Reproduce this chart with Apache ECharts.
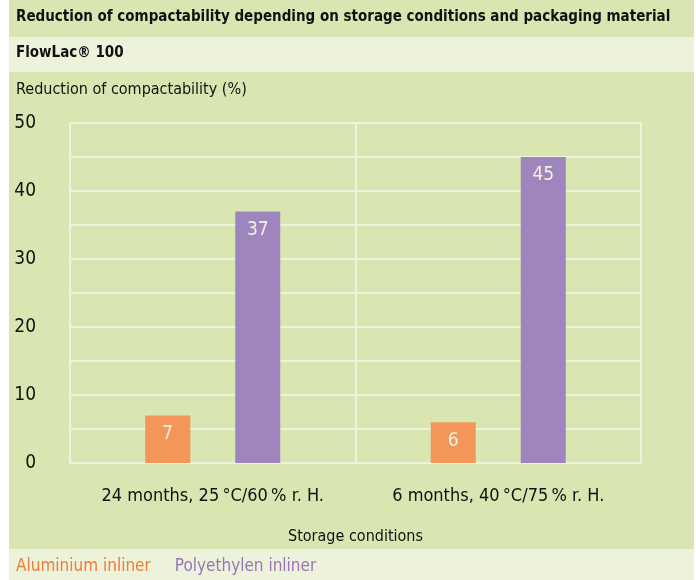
<!DOCTYPE html>
<html>
<head>
<meta charset="utf-8">
<script src="https://cdn.jsdelivr.net/npm/echarts@6/dist/echarts.min.js"></script>
<style>
html,body{margin:0;padding:0;background:#fff;}
#chart{width:696px;height:580px;}
</style>
</head>
<body>
<div id="chart"></div>
<script>
var categories = ['24 months, 25\u2009°C/60\u2009% r. H.', '6 months, 40\u2009°C/75\u2009% r. H.'];
var seriesNames = ['Aluminium inliner', 'Polyethylen inliner'];
var aluminium = [7, 6];
var polyethylen = [37, 45];
var yTickLabels = [0, 10, 20, 30, 40, 50];

var FONT = '"DejaVu Sans Condensed", "Liberation Sans Narrow", "Roboto", sans-serif';
var GREEN = '#d9e6b1';
var LIGHT = '#edf2da';
var GRIDC = '#eef3dd';
var ORANGE = '#f4955a';
var PURPLE = '#9e85bd';

var chart = echarts.init(document.getElementById('chart'), null, {renderer: 'canvas'});
chart.setOption({
  backgroundColor: '#ffffff',
  animation: false,
  graphic: [
    {type: 'rect', z: -10, silent: true, shape: {x: 9, y: 0, width: 685, height: 37}, style: {fill: GREEN}},
    {type: 'rect', z: -10, silent: true, shape: {x: 9, y: 37, width: 685, height: 35}, style: {fill: LIGHT}},
    {type: 'rect', z: -10, silent: true, shape: {x: 9, y: 72, width: 685, height: 477}, style: {fill: GREEN}},
    {type: 'rect', z: -10, silent: true, shape: {x: 9, y: 549, width: 685, height: 31}, style: {fill: LIGHT}}
  ],
  title: [
    {text: 'Reduction of compactability depending on storage conditions and packaging material',
     left: 16, top: 10, padding: 0,
     textStyle: {fontFamily: FONT, fontSize: 15, fontWeight: 'bold', color: '#111'}},
    {text: 'FlowLac® 100', left: 16, top: 46, padding: 0,
     textStyle: {fontFamily: FONT, fontSize: 15, fontWeight: 'bold', color: '#111'}}
  ],
  legend: {
    left: 16, top: 558, padding: 0,
    icon: 'none', itemWidth: 0, itemHeight: 0, itemGap: 24,
    selectedMode: false,
    textStyle: {fontFamily: FONT, fontSize: 17, padding: [0,0,0,-5]},
    data: [
      {name: seriesNames[0], textStyle: {color: '#ef7c38'}},
      {name: seriesNames[1], textStyle: {color: '#9a74b8'}}
    ]
  },
  grid: {left: 70, right: 55, top: 123, bottom: 117, outerBoundsMode: 'none', containLabel: false},
  xAxis: {
    type: 'category',
    data: categories,
    name: 'Storage conditions',
    nameLocation: 'middle',
    nameGap: 66,
    nameTextStyle: {fontFamily: FONT, fontSize: 16, color: '#111'},
    axisLine: {show: true, lineStyle: {color: GRIDC, width: 2}},
    axisTick: {show: false},
    axisLabel: {fontFamily: FONT, fontSize: 18, color: '#111', margin: 24, interval: 0, hideOverlap: false},
    splitLine: {show: true, lineStyle: {color: GRIDC, width: 2}}
  },
  yAxis: {
    type: 'value',
    min: 0, max: 50, interval: 5,
    name: 'Reduction of compactability (%)',
    nameLocation: 'end',
    nameGap: 33,
    nameTextStyle: {fontFamily: FONT, fontSize: 16, color: '#111', align: 'left', verticalAlign: 'middle', padding: [0,0,0,-54]},
    axisLine: {show: false},
    axisTick: {show: false},
    axisLabel: {
      fontFamily: FONT, fontSize: 19, color: '#111', margin: 34, align: 'right',
      formatter: function (v) { return yTickLabels.indexOf(v) >= 0 ? String(v) : ''; }
    },
    splitLine: {show: true, lineStyle: {color: GRIDC, width: 2}}
  },
  series: [
    {
      name: seriesNames[0], type: 'bar', data: aluminium,
      barWidth: 45, barGap: '100%',
      itemStyle: {color: ORANGE},
      label: {show: true, position: 'insideTop', distance: 9, fontFamily: FONT, fontSize: 19, color: '#f4f1de'}
    },
    {
      name: seriesNames[1], type: 'bar', data: polyethylen,
      barWidth: 45, barGap: '100%',
      itemStyle: {color: PURPLE},
      label: {show: true, position: 'insideTop', distance: 9, fontFamily: FONT, fontSize: 19, color: '#f4f1de'}
    }
  ]
});
</script>
</body>
</html>
